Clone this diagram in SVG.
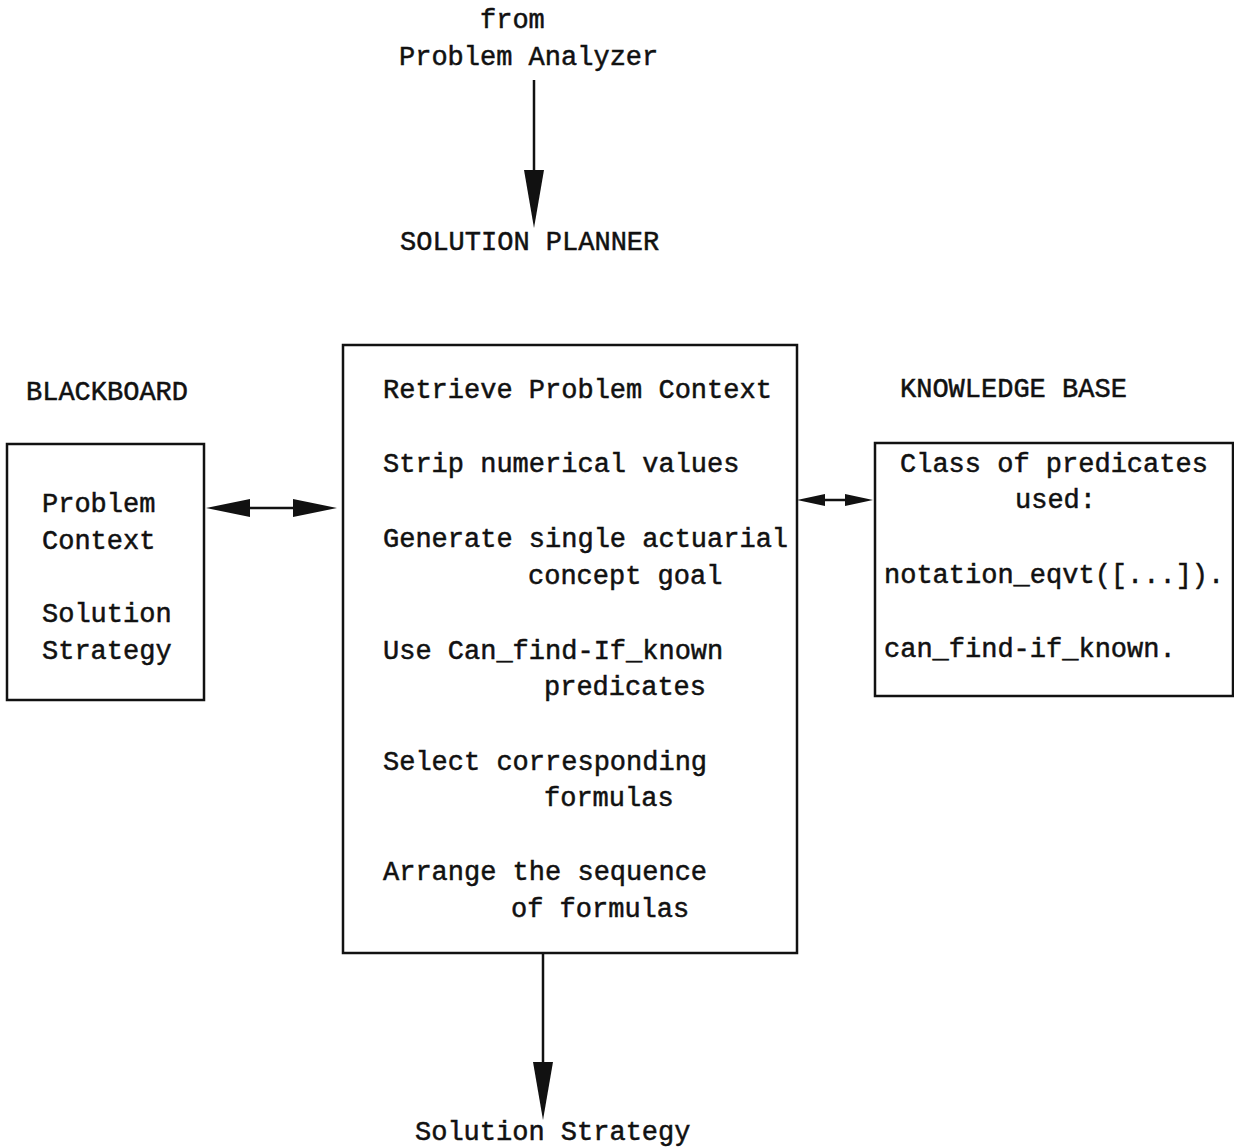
<svg xmlns="http://www.w3.org/2000/svg" width="1234" height="1148" viewBox="0 0 1234 1148">
<style>
text{font-family:"Liberation Mono","DejaVu Sans Mono",monospace;font-size:27px;fill:#111;stroke:#111;stroke-width:0.5}
.box{fill:none;stroke:#111;stroke-width:2.5}
.ln{stroke:#111;stroke-width:2.5;fill:none}
.hd{fill:#111;stroke:none}
</style>
<rect width="1234" height="1148" fill="#fff"/>
<g id="top-label">
<text x="480" y="28">from</text>
<text x="399" y="65">Problem Analyzer</text>
</g>
<g id="planner-title"><text x="400" y="250">SOLUTION PLANNER</text></g>
<g id="blackboard-title"><text x="26" y="400">BLACKBOARD</text></g>
<g id="kb-title"><text x="900" y="397">KNOWLEDGE BASE</text></g>
<g id="blackboard">
<rect class="box" x="7" y="444" width="197" height="256"/>
<text x="42" y="512">Problem</text>
<text x="42" y="549">Context</text>
<text x="42" y="622">Solution</text>
<text x="42" y="659">Strategy</text>
</g>
<g id="planner">
<rect class="box" x="343" y="345" width="454" height="608"/>
<text x="383" y="398">Retrieve Problem Context</text>
<text x="383" y="472">Strip numerical values</text>
<text x="383" y="547">Generate single actuarial</text>
<text x="528" y="584">concept goal</text>
<text x="383" y="659">Use Can_find-If_known</text>
<text x="544" y="695">predicates</text>
<text x="383" y="770">Select corresponding</text>
<text x="544" y="806">formulas</text>
<text x="383" y="880">Arrange the sequence</text>
<text x="511" y="917">of formulas</text>
</g>
<g id="knowledge-base">
<rect class="box" x="875" y="443" width="358" height="253"/>
<text x="900" y="472">Class of predicates</text>
<text x="1015" y="508">used:</text>
<text x="884" y="583">notation_eqvt([...]).</text>
<text x="884" y="657">can_find-if_known.</text>
</g>
<g id="output-label"><text x="415" y="1140">Solution Strategy</text></g>
<g id="connectors">
<line class="ln" x1="534" y1="80" x2="534" y2="172"/>
<polygon class="hd" points="524,170 544,170 534,228"/>
<line class="ln" x1="543" y1="953" x2="543" y2="1064"/>
<polygon class="hd" points="533,1062 553,1062 543,1120"/>
<line class="ln" x1="240" y1="508" x2="300" y2="508"/>
<polygon class="hd" points="206,508 250,499 250,517"/>
<polygon class="hd" points="337,508 293,499 293,517"/>
<line class="ln" x1="815" y1="500" x2="855" y2="500"/>
<polygon class="hd" points="797,500 825,494 825,506"/>
<polygon class="hd" points="873,500 845,494 845,506"/>
</g>
</svg>
